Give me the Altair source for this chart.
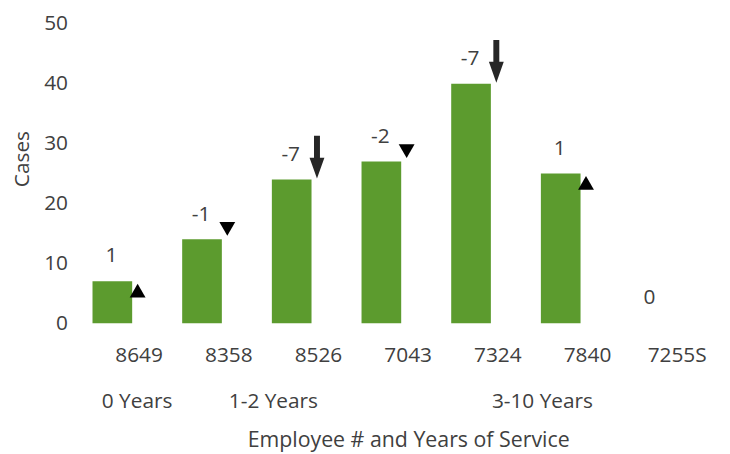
import altair as alt
import pandas as pd

employees = ["8649", "8358", "8526", "7043", "7324", "7840", "7255S"]
cases = [7, 14, 24, 27, 40, 25, 0]
changes = [1, -1, -7, -2, -7, 1, 0]
indicators = ["up", "down", "arrow", "down", "arrow", "up", "none"]

group_names = ["0 Years", "1-2 Years", "3-10 Years"]
group_anchor = ["8649", "8358", "7324"]
group_between = [False, True, True]

y_ticks = [0, 10, 20, 30, 40, 50]

FONT = "Open Sans"
FS = 21
TXT = "#404040"
GREEN = "#5C9B2E"
ARROW = "M-0.4,-5.73L0.4,-5.73L0.4,-2.8L1,-2.8L0,0L-1,-2.8L-0.4,-2.8Z"

df = pd.DataFrame({"emp": employees, "cases": cases, "chg": changes, "ind": indicators})
gdf = pd.DataFrame({"emp": group_anchor, "name": group_names, "between": group_between})

xscale = alt.Scale(domain=employees, paddingInner=0, paddingOuter=0)
xenc = alt.X("emp:N", sort=employees, scale=xscale,
             axis=alt.Axis(title="Employee # and Years of Service", labelAngle=0,
                           domain=False, ticks=False, labelPadding=22,
                           labelFontSize=FS, labelFont=FONT, labelColor=TXT,
                           titleFontSize=21.5, titleFont=FONT, titleColor=TXT,
                           titleFontWeight="normal", titleY=124,
                           titleBaseline="alphabetic"))
xplain = alt.X("emp:N", sort=employees, scale=xscale)
yenc = alt.Y("cases:Q", scale=alt.Scale(domain=[0, 50]),
             axis=alt.Axis(title="Cases", values=y_ticks, grid=False, domain=False,
                           ticks=False, labelPadding=27, labelFontSize=FS,
                           labelFont=FONT, labelColor=TXT, titleFontSize=FS,
                           titleFont=FONT, titleColor=TXT, titleFontWeight="normal",
                           titleX=-72, titleY=136, titleAngle=-90,
                           titleAlign="center", titleBaseline="middle"))

base = alt.Chart(df)

bars = base.mark_bar(width=40, xOffset=-27, color=GREEN).encode(x=xenc, y=yenc)

labels = base.transform_calculate(lbl="toString(datum.chg)").mark_text(
    xOffset=-28, dy=-25, fontSize=FS, font=FONT, color=TXT,
    baseline="middle").encode(x=xplain, y="cases:Q", text="lbl:N")

up = base.transform_filter(alt.datum.ind == "up").mark_point(
    shape="triangle-up", size=256, filled=True, opacity=1, color="black",
    xOffset=-1.5, yOffset=9.5).encode(x=xplain, y="cases:Q")

down = base.transform_filter(alt.datum.ind == "down").mark_point(
    shape="triangle-down", size=256, filled=True, opacity=1, color="black",
    xOffset=-1.5, yOffset=-10.5).encode(x=xplain, y="cases:Q")

arrow = base.transform_filter(alt.datum.ind == "arrow").mark_point(
    shape=ARROW, size=225, filled=True, opacity=1, color="#262626",
    xOffset=-1.5, yOffset=-1).encode(x=xplain, y="cases:Q")

gbase = alt.Chart(gdf)
g_on = gbase.transform_filter(alt.datum.between == False).mark_text(
    xOffset=-2, fontSize=FS, font=FONT, color=TXT, baseline="middle").encode(
    x=xplain, y=alt.value(381), text="name:N")
g_between = gbase.transform_filter(alt.datum.between == True).mark_text(
    xOffset=45, fontSize=FS, font=FONT, color=TXT, baseline="middle").encode(
    x=xplain, y=alt.value(381), text="name:N")

chart = alt.layer(bars, labels, up, down, arrow, g_on, g_between).properties(
    width=633, height=302,
    autosize=alt.AutoSizeParams(type="none"),
    padding={"left": 87, "top": 14, "right": 0, "bottom": 130},
    background="white",
).configure_view(strokeWidth=0)

chart.save("out.html", embed_options={"renderer": "svg", "actions": False})
